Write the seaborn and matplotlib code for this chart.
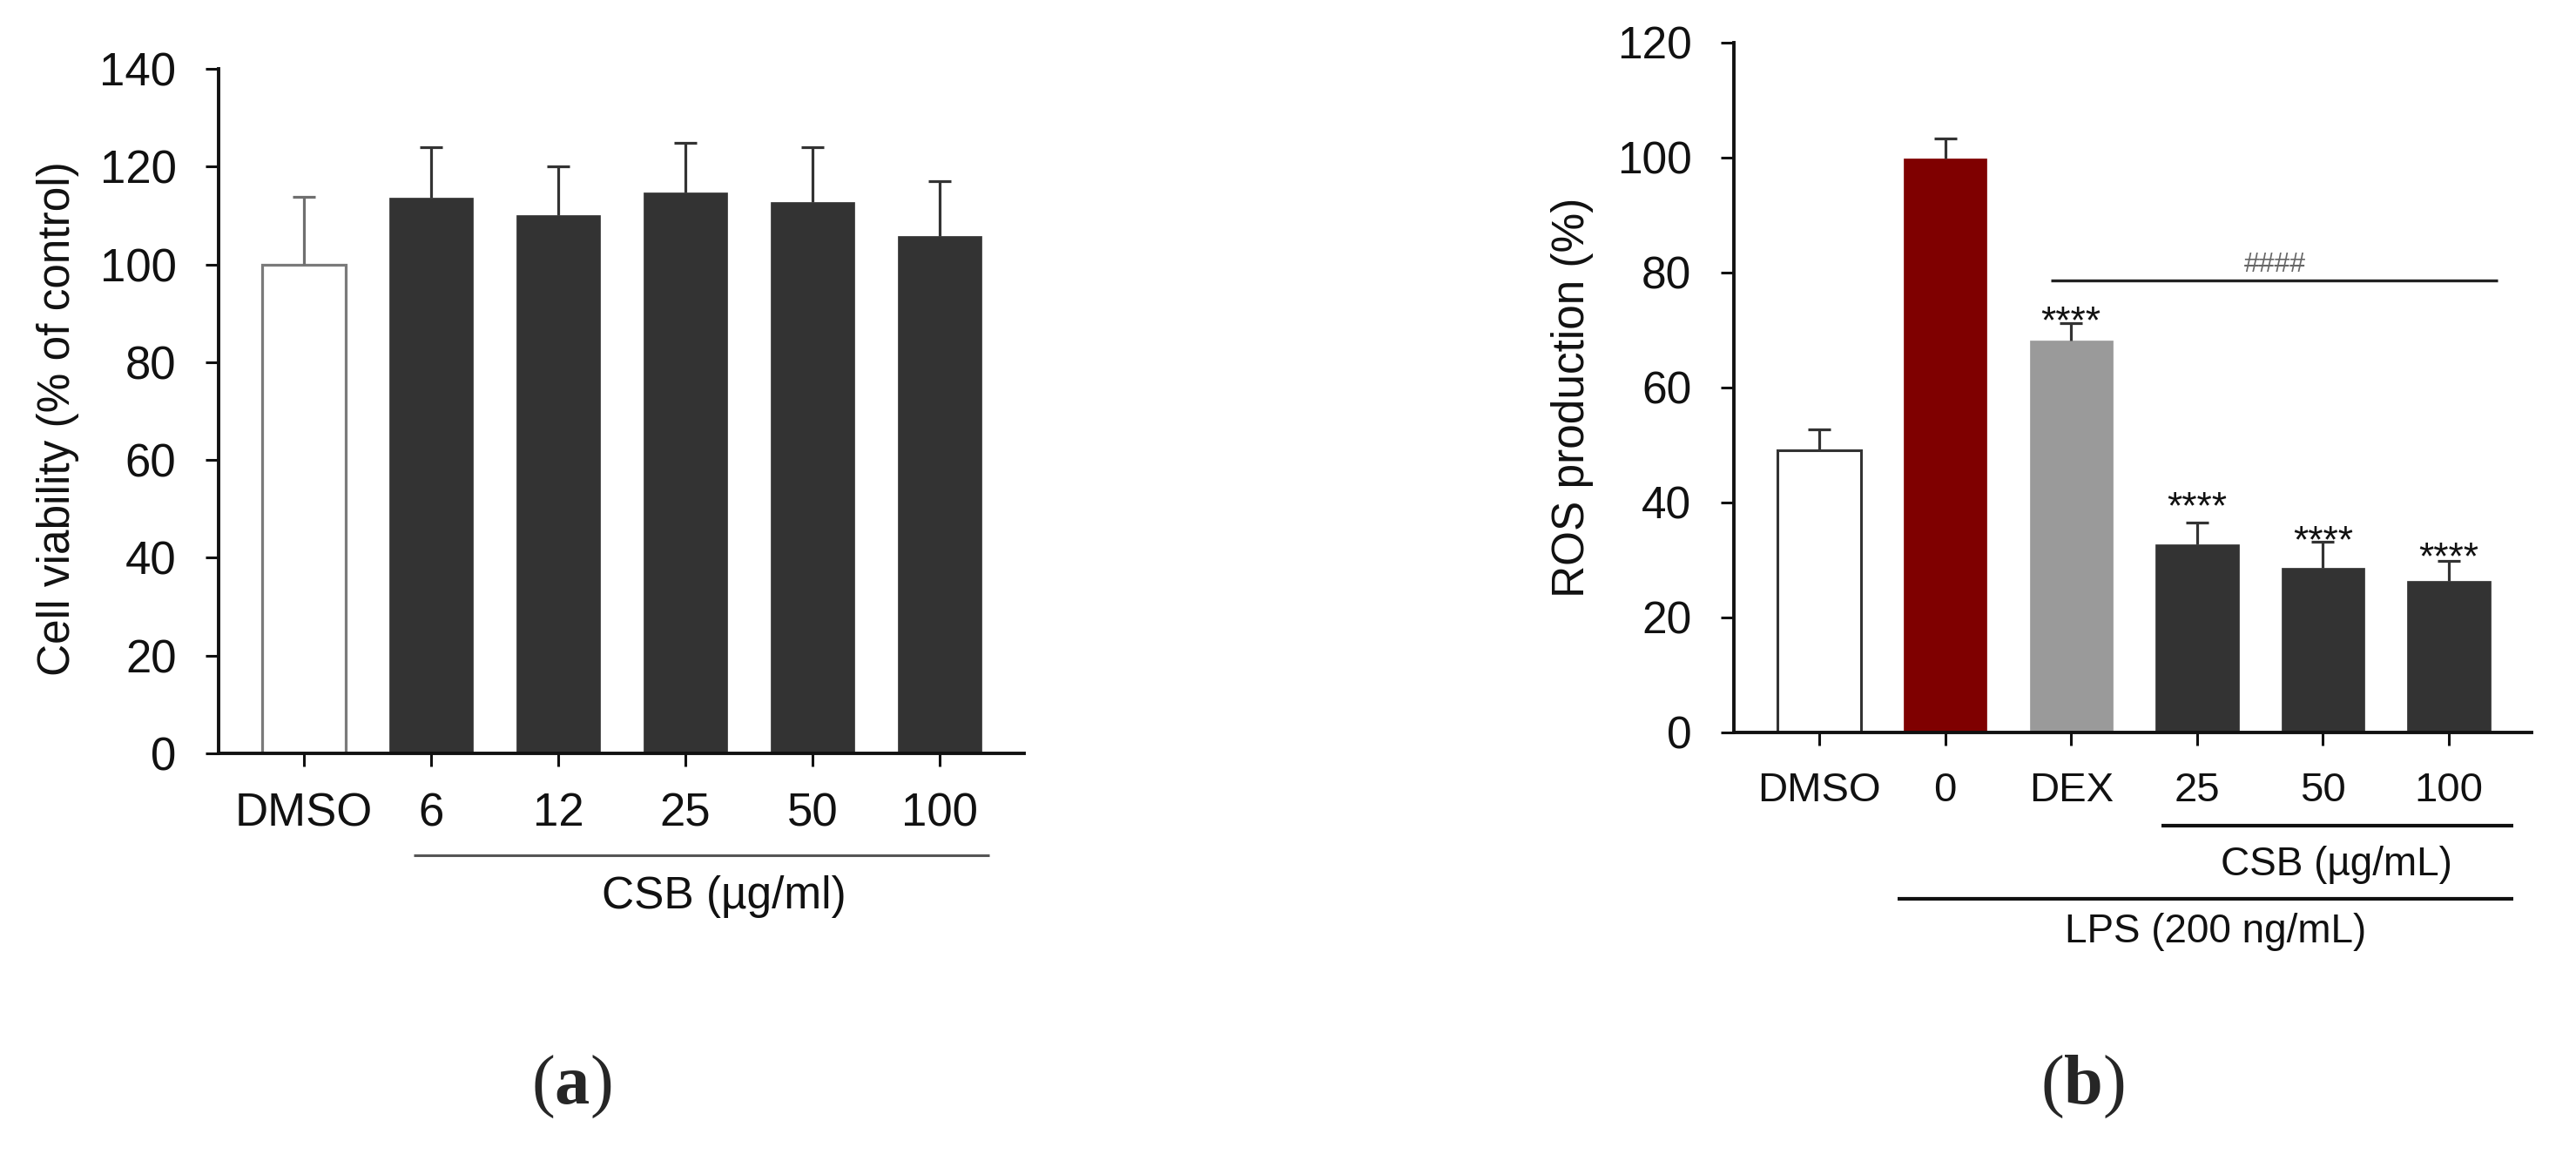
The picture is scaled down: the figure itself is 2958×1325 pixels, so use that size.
import numpy as np
import pandas as pd
import matplotlib
matplotlib.use("Agg")
import matplotlib.pyplot as plt
import matplotlib.transforms as mtransforms
import seaborn as sns

# ---------------- data ----------------
a_groups = ["DMSO", "6", "12", "25", "50", "100"]
a_means = [100.0, 113.6, 110.0, 114.7, 112.8, 105.8]
a_errs = [13.8, 10.4, 10.0, 10.1, 11.2, 11.2]
a_yticks = [0, 20, 40, 60, 80, 100, 120, 140]

b_groups = ["DMSO", "0", "DEX", "25", "50", "100"]
b_means = [49.1, 99.9, 68.2, 32.7, 28.6, 26.4]
b_errs = [3.6, 3.4, 3.0, 3.8, 4.6, 3.4]
b_yticks = [0, 20, 40, 60, 80, 100, 120]

b_sig_groups = ["DEX", "25", "50", "100"]
b_sig_labels = ["****", "****", "****", "****"]
b_sig_y = [73.3, 41.1, 35.2, 32.3]          # label heights (data units)
b_hash_label = "####"

# ---------------- style ----------------
sns.set_style("ticks")
plt.rcParams["font.family"] = ["Liberation Sans", "DejaVu Sans"]
plt.rcParams["mathtext.fontset"] = "custom"
plt.rcParams["mathtext.rm"] = "Liberation Serif"
plt.rcParams["mathtext.bf"] = "Liberation Serif:bold"

W, H = 2958, 1325
fig = plt.figure(figsize=(W / 100, H / 100), dpi=100)
fig.patch.set_facecolor("white")


def fy(px):
    return 1 - px / H


axA = fig.add_axes([251 / W, fy(865), 925 / W, (865 - 79) / H])
axB = fig.add_axes([1991 / W, fy(841), 916 / W, (841 - 49) / H])


def draw_panel(ax, groups, means, errs, colors, edgecolors, edgewidths, errcolors,
               ylim, yticks, xlim, ylabel, xt_fs, yt_fs, yl_fs, ylabel_xy, xpad):
    df = pd.DataFrame({"group": groups, "value": means})
    sns.barplot(data=df, x="group", y="value", hue="group", order=groups,
                hue_order=groups, palette=dict(zip(groups, colors)),
                saturation=1, width=0.66, legend=False, errorbar=None, ax=ax)
    for p, ec, lw in zip(ax.patches, edgecolors, edgewidths):
        p.set_edgecolor(ec)
        p.set_linewidth(lw)
    for i, (m, e, c) in enumerate(zip(means, errs, errcolors)):
        cont = ax.errorbar(i, m, yerr=[[0], [e]], fmt="none", ecolor=c,
                           elinewidth=2.3, capsize=9.5, capthick=2.3, zorder=3)
        cont.lines[1][0].set_visible(False)
    sns.despine(ax=ax)
    for s in ("left", "bottom"):
        ax.spines[s].set_linewidth(2.8)
        ax.spines[s].set_color("#111111")
    ax.set_yticks(yticks)
    ax.tick_params(axis="both", direction="out", length=10.5, width=2.2,
                   color="#111111", labelcolor="#111111")
    ax.tick_params(axis="x", pad=xpad, labelsize=xt_fs)
    ax.tick_params(axis="y", pad=24.5, labelsize=yt_fs)
    ax.set_xlabel("")
    ax.set_ylabel(ylabel, fontsize=yl_fs, va="center", color="#111111")
    ax.yaxis.set_label_coords(*ylabel_xy)
    ax.set_facecolor("white")


draw_panel(axA, a_groups, a_means, a_errs,
           colors=["white"] + ["#333333"] * 5,
           edgecolors=["#7a7a7a"] + ["#333333"] * 5,
           edgewidths=[2.3] + [0.5] * 5,
           errcolors=["#6f6f6f"] + ["#333333"] * 5,
           ylim=(0, 140), yticks=a_yticks, xlim=(-0.671, 5.664),
           ylabel="Cell viability (% of control)", xt_fs=38, yt_fs=38, yl_fs=37,
           ylabel_xy=(-0.199, 0.4885), xpad=21.5)

draw_panel(axB, b_groups, b_means, b_errs,
           colors=["white", "#7f0000", "#9a9a9a", "#333333", "#333333", "#333333"],
           edgecolors=["#333333", "#7f0000", "#9a9a9a", "#333333", "#333333", "#333333"],
           edgewidths=[2.2, 0.5, 0.5, 0.5, 0.5, 0.5],
           errcolors=["#333333"] * 6,
           ylim=(0, 120), yticks=b_yticks, xlim=(-0.678, 5.657),
           ylabel="ROS production (%)", xt_fs=34, yt_fs=37, yl_fs=37,
           ylabel_xy=(-0.202, 0.486), xpad=22)

# ---------------- annotations panel b ----------------
for g, lab, yv in zip(b_sig_groups, b_sig_labels, b_sig_y):
    xi = b_groups.index(g)
    axB.annotate(lab, xy=(xi, yv), xytext=(0, -0.575 * 32), textcoords="offset points",
                 ha="center", va="baseline", fontsize=32, color="#111111")

axB.plot([1.84, 5.39], [78.6, 78.6], color="#222222", lw=2.4,
         solid_capstyle="butt", clip_on=False)
axB.text(3.62, 81.4, b_hash_label, ha="center", va="center", fontsize=23,
         color="#666666")

# ---------------- group brackets below axes ----------------
trA = mtransforms.blended_transform_factory(axA.transData, fig.transFigure)
axA.plot([0.863, 5.39], [fy(982), fy(982)], transform=trA, color="#555555",
         lw=2.2, clip_on=False, solid_capstyle="butt")
axA.text(3.30, fy(1029), "CSB (µg/ml)", transform=trA, ha="center",
         va="center", fontsize=37, color="#111111")

trB = mtransforms.blended_transform_factory(axB.transData, fig.transFigure)
axB.plot([2.72, 5.51], [fy(948), fy(948)], transform=trB, color="#111111",
         lw=3.0, clip_on=False, solid_capstyle="butt")
axB.text(4.11, fy(993), "CSB (µg/mL)", transform=trB, ha="center",
         va="center", fontsize=33, color="#111111")
axB.plot([0.62, 5.51], [fy(1032), fy(1032)], transform=trB, color="#111111",
         lw=3.0, clip_on=False, solid_capstyle="butt")
axB.text(3.15, fy(1070), "LPS (200 ng/mL)", transform=trB, ha="center",
         va="center", fontsize=33, color="#111111")

axA.set_xlim(-0.671, 5.664)
axA.set_ylim(0, 140)
axB.set_xlim(-0.678, 5.657)
axB.set_ylim(0, 120)

# ---------------- panel captions ----------------
fig.text(656 / W, fy(1248), r"$\mathrm{(}\mathbf{a}\mathrm{)}$", ha="center",
         va="center", fontsize=58)
fig.text(2391 / W, fy(1248), r"$\mathrm{(}\mathbf{b}\mathrm{)}$", ha="center",
         va="center", fontsize=58)

fig.savefig("out.png", dpi=100, facecolor="white")
